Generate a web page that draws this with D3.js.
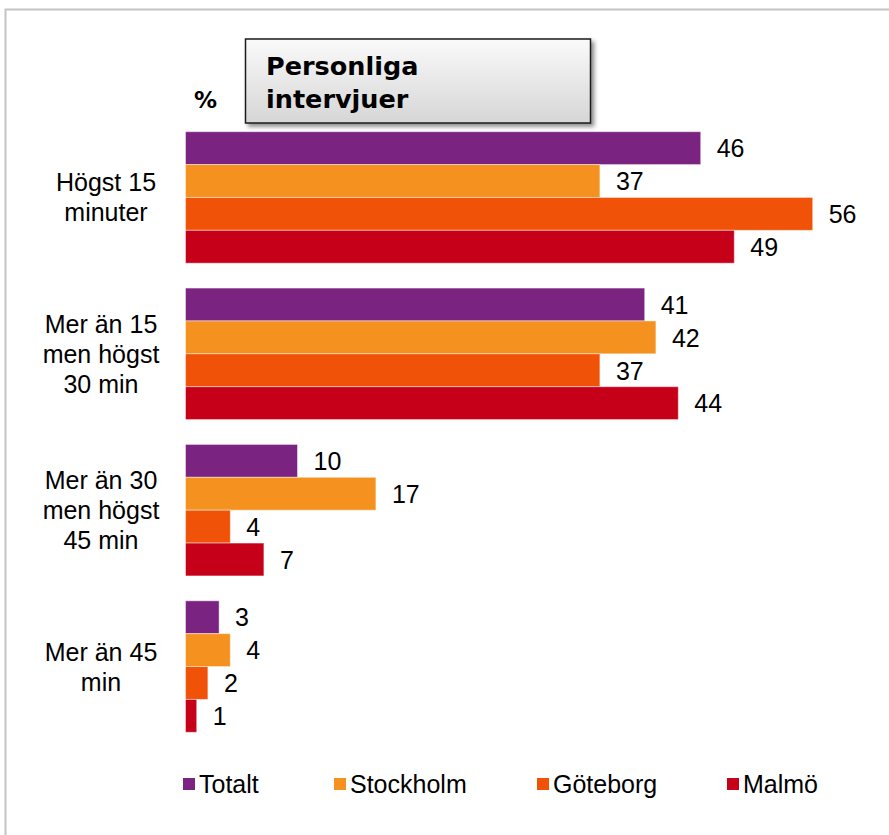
<!DOCTYPE html>
<meta charset="utf-8">
<head>
<style>
body {
  margin: 0;
  background: white;
}
.cat text, .val, .legend text {
  font-family: "Liberation Sans", Arial, sans-serif;
  font-size: 25px;
  fill: #000;
}
.title {
  font-family: "DejaVu Sans", Verdana, sans-serif;
  font-weight: bold;
}
</style>
</head>
<body>
<script src="https://d3js.org/d3.v7.min.js"></script>
<script>

// data
var categories = [
  ["Högst 15", "minuter"],
  ["Mer än 15", "men högst", "30 min"],
  ["Mer än 30", "men högst", "45 min"],
  ["Mer än 45", "min"]
];
var seriesNames = ["Totalt", "Stockholm", "Göteborg", "Malmö"];
var totalt    = [46, 41, 10, 3];
var stockholm = [37, 42, 17, 4];
var goteborg  = [56, 37, 4, 2];
var malmo     = [49, 44, 7, 1];
var seriesColors = ["#7a2380", "#f5921f", "#f05207", "#c7001a"];

var series = [totalt, stockholm, goteborg, malmo];

var W = 889, H = 835;

var svg = d3.select("body").append("svg")
    .attr("width", W)
    .attr("height", H);

var defs = svg.append("defs");
var grad = defs.append("linearGradient")
    .attr("id", "boxGrad")
    .attr("x1", 0).attr("y1", 0).attr("x2", 0).attr("y2", 1);
grad.append("stop").attr("offset", "0%").attr("stop-color", "#fafafa");
grad.append("stop").attr("offset", "100%").attr("stop-color", "#d6d6d6");
var shadow = defs.append("filter").attr("id", "shadow")
    .attr("x", "-10%").attr("y", "-10%").attr("width", "130%").attr("height", "140%");
shadow.append("feDropShadow")
    .attr("dx", 3).attr("dy", 3).attr("stdDeviation", 2)
    .attr("flood-color", "#000").attr("flood-opacity", 0.45);

// outer frame (only left and top visible)
svg.append("path")
    .attr("d", "M5.5," + H + "V9.5H" + W)
    .attr("fill", "none")
    .attr("stroke", "#c4c4c4")
    .attr("stroke-width", 2);

// scales
var x = d3.scaleLinear()
    .domain([0, 56])
    .range([185.5, 812.7]);

var y0 = d3.scaleBand()
    .domain(d3.range(categories.length))
    .range([131.7, 732.3])
    .paddingInner(0.159)
    .paddingOuter(0);

var y1 = d3.scaleBand()
    .domain(d3.range(seriesNames.length))
    .range([0, y0.bandwidth()])
    .padding(0);

var color = d3.scaleOrdinal()
    .domain(d3.range(seriesNames.length))
    .range(seriesColors);

// bars
var groups = svg.selectAll(".grp")
    .data(categories)
    .enter().append("g")
    .attr("class", "grp")
    .attr("transform", function(d, i) { return "translate(0," + y0(i) + ")"; });

groups.each(function(c, ci) {
  var g = d3.select(this);
  var vals = series.map(function(s, si) { return {si: si, v: s[ci]}; });

  g.selectAll("rect")
      .data(vals)
      .enter().append("rect")
      .attr("x", x(0))
      .attr("y", function(d) { return y1(d.si); })
      .attr("width", function(d) { return x(d.v) - x(0); })
      .attr("height", y1.bandwidth())
      .attr("fill", function(d) { return color(d.si); })
      .attr("stroke", "rgba(255,255,255,0.45)")
      .attr("stroke-width", 1);

  g.selectAll(".val")
      .data(vals)
      .enter().append("text")
      .attr("class", "val")
      .attr("x", function(d) { return x(d.v) + 16; })
      .attr("y", function(d) { return y1(d.si) + y1.bandwidth() / 2; })
      .attr("dy", "0.37em")
      .text(function(d) { return d.v; });
});

// category labels
var cat = svg.append("g").attr("class", "cat");
var catX = [106, 101, 101, 101];
categories.forEach(function(lines, i) {
  var cy = y0(i) + y0.bandwidth() / 2;
  var t = cat.append("text")
      .attr("text-anchor", "middle");
  lines.forEach(function(l, li) {
    t.append("tspan")
        .attr("x", catX[i])
        .attr("y", cy + 9 + (li - (lines.length - 1) / 2) * 30)
        .text(l);
  });
});

// title box
svg.append("rect")
    .attr("x", 245.5)
    .attr("y", 39)
    .attr("width", 345)
    .attr("height", 84)
    .attr("fill", "url(#boxGrad)")
    .attr("stroke", "#1a1a1a")
    .attr("stroke-width", 1.5)
    .attr("filter", "url(#shadow)");

svg.append("text")
    .attr("class", "title")
    .attr("x", 266)
    .attr("y", 75)
    .style("font-size", "25.5px")
    .text("Personliga");
svg.append("text")
    .attr("class", "title")
    .attr("x", 266)
    .attr("y", 108)
    .style("font-size", "25.5px")
    .text("intervjuer");

svg.append("text")
    .attr("class", "title")
    .attr("x", 194)
    .attr("y", 108)
    .style("font-size", "23px")
    .text("%");

// legend
var legendX = [183, 334, 537, 727];
var legend = svg.selectAll(".legend")
    .data(seriesNames)
    .enter().append("g")
    .attr("class", "legend")
    .attr("transform", function(d, i) { return "translate(" + legendX[i] + ",784)"; });

legend.append("rect")
    .attr("x", 0)
    .attr("y", -6)
    .attr("width", 12)
    .attr("height", 12)
    .style("fill", function(d, i) { return color(i); });

legend.append("text")
    .attr("x", 16)
    .attr("y", 0)
    .attr("dy", "0.35em")
    .text(function(d) { return d; });

</script>
</body>
